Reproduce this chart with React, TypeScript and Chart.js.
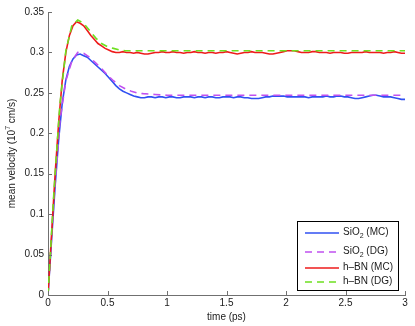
import React, { useEffect, useRef } from "react";
import { Chart, registerables } from "chart.js";

Chart.register(...registerables);

const timesMC = [
  0, 0.03, 0.06, 0.09, 0.12, 0.15, 0.18, 0.21, 0.24, 0.27,
  0.3, 0.33, 0.36, 0.39, 0.42, 0.45, 0.48, 0.51, 0.54, 0.57,
  0.6, 0.63, 0.66, 0.69, 0.72, 0.75, 0.78, 0.81, 0.84, 0.87,
  0.9, 0.93, 0.96, 0.99, 1.02, 1.05, 1.08, 1.11, 1.14, 1.17,
  1.2, 1.23, 1.26, 1.29, 1.32, 1.35, 1.38, 1.41, 1.44, 1.47,
  1.5, 1.53, 1.56, 1.59, 1.62, 1.65, 1.68, 1.71, 1.74, 1.77,
  1.8, 1.83, 1.86, 1.89, 1.92, 1.95, 1.98, 2.01, 2.04, 2.07,
  2.1, 2.13, 2.16, 2.19, 2.22, 2.25, 2.28, 2.31, 2.34, 2.37,
  2.4, 2.43, 2.46, 2.49, 2.52, 2.55, 2.58, 2.61, 2.64, 2.67,
  2.7, 2.73, 2.76, 2.79, 2.82, 2.85, 2.88, 2.91, 2.94, 2.97, 3.0,
];

const sio2MC = [
  0, 0.068, 0.135, 0.193, 0.238, 0.266, 0.283, 0.292, 0.297, 0.298,
  0.296, 0.294, 0.29, 0.286, 0.282, 0.278, 0.274, 0.269, 0.264, 0.259,
  0.255, 0.252, 0.25, 0.248, 0.246, 0.245, 0.244, 0.244, 0.245, 0.245,
  0.244, 0.245, 0.245, 0.244, 0.245, 0.245, 0.244, 0.244, 0.245, 0.245,
  0.245, 0.244, 0.245, 0.245, 0.244, 0.245, 0.245, 0.244, 0.244, 0.245,
  0.245, 0.245, 0.244, 0.245, 0.245, 0.244, 0.244, 0.243, 0.243, 0.243,
  0.244, 0.245, 0.245, 0.246, 0.246, 0.246, 0.246, 0.245, 0.245, 0.245,
  0.245, 0.245, 0.245, 0.244, 0.245, 0.245, 0.245, 0.245, 0.246, 0.245,
  0.245, 0.246, 0.246, 0.245, 0.245, 0.244, 0.243, 0.243, 0.244, 0.245,
  0.246, 0.247, 0.247, 0.246, 0.245, 0.245, 0.245, 0.244, 0.243, 0.242, 0.242,
];

const hbnMC = [
  0, 0.075, 0.15, 0.214, 0.266, 0.3, 0.321, 0.333, 0.338, 0.336,
  0.333, 0.327, 0.321, 0.316, 0.311, 0.308, 0.305, 0.303, 0.301, 0.3,
  0.3, 0.301, 0.3, 0.3, 0.299, 0.3, 0.299, 0.298, 0.298, 0.299,
  0.3, 0.3, 0.301, 0.3, 0.3, 0.301, 0.3, 0.3, 0.299, 0.3,
  0.3, 0.301, 0.3, 0.3, 0.299, 0.3, 0.3, 0.299, 0.3, 0.3,
  0.301, 0.3, 0.299, 0.298, 0.299, 0.3, 0.3, 0.301, 0.3, 0.3,
  0.3, 0.299, 0.298, 0.298, 0.299, 0.3, 0.301, 0.302, 0.302, 0.302,
  0.301, 0.3, 0.3, 0.3, 0.301, 0.301, 0.3, 0.3, 0.3, 0.299,
  0.3, 0.3, 0.3, 0.299, 0.299, 0.3, 0.3, 0.3, 0.3, 0.301,
  0.3, 0.3, 0.3, 0.3, 0.299, 0.3, 0.3, 0.301, 0.3, 0.299, 0.299,
];

const timesDG = [
  0, 0.05, 0.1, 0.15, 0.2, 0.25, 0.3, 0.35, 0.4, 0.45, 0.5, 0.55,
  0.6, 0.65, 0.7, 0.75, 0.8, 0.9, 1.0, 1.5, 2.0, 2.5, 3.0,
];

const sio2DG = [
  0, 0.118, 0.215, 0.265, 0.289, 0.3, 0.299, 0.294, 0.287, 0.28, 0.272, 0.265,
  0.259, 0.255, 0.252, 0.25, 0.249, 0.248, 0.247, 0.247, 0.247, 0.247, 0.247,
];

const hbnDG = [
  0, 0.128, 0.236, 0.302, 0.333, 0.34, 0.336, 0.327, 0.318, 0.311, 0.307, 0.305,
  0.303, 0.302, 0.302, 0.302, 0.302, 0.302, 0.302, 0.302, 0.302, 0.302, 0.302,
];

const xTicks = [0, 0.5, 1, 1.5, 2, 2.5, 3];
const yTicks = [0, 0.05, 0.1, 0.15, 0.2, 0.25, 0.3, 0.35];

const legendMain = ["SiO", "SiO", "h\u2013BN", "h\u2013BN"];
const legendSub = ["2", "2", "", ""];
const legendTail = [" (MC)", " (DG)", " (MC)", " (DG)"];

const yTitleParts = ["mean velocity (10", "7", " cm/s)"];

const FONT = "'Liberation Sans', Arial, Helvetica, sans-serif";
const AXIS = "#707070";
const TEXT = "#1a1a1a";

const COLORS = ["#3050f2", "#c050f0", "#ee1b1b", "#6ee020"];

const pairs = (xs: number[], ys: number[]) => xs.map((x, i) => ({ x, y: ys[i] }));

export default function App() {
  const ref = useRef<HTMLCanvasElement | null>(null);

  useEffect(() => {
    const canvas = ref.current;
    if (!canvas) return;

    const decorations = {
      id: "decorations",
      afterDraw(chart: any) {
        const ctx = chart.ctx;
        const xs = chart.scales.x;
        const ys = chart.scales.y;
        const a = chart.chartArea;
        ctx.save();
        ctx.strokeStyle = AXIS;
        ctx.lineWidth = 1;
        ctx.beginPath();
        xTicks.forEach((v) => {
          const px = Math.round(xs.getPixelForValue(v)) + 0.5;
          ctx.moveTo(px, a.bottom);
          ctx.lineTo(px, a.bottom - 4);
        });
        yTicks.forEach((v) => {
          const py = Math.round(ys.getPixelForValue(v)) + 0.5;
          ctx.moveTo(a.left, py);
          ctx.lineTo(a.left + 4, py);
        });
        ctx.stroke();

        // y-axis title with superscript
        ctx.save();
        ctx.fillStyle = TEXT;
        ctx.textBaseline = "middle";
        ctx.textAlign = "left";
        const big = `10px ${FONT}`;
        const small = `7px ${FONT}`;
        ctx.font = big;
        const w0 = ctx.measureText(yTitleParts[0]).width;
        const w2 = ctx.measureText(yTitleParts[2]).width;
        ctx.font = small;
        const w1 = ctx.measureText(yTitleParts[1]).width;
        const total = w0 + w1 + w2;
        ctx.translate(12, (a.top + a.bottom) / 2);
        ctx.rotate(-Math.PI / 2);
        let tx = -total / 2;
        ctx.font = big;
        ctx.fillText(yTitleParts[0], tx, 0);
        tx += w0;
        ctx.font = small;
        ctx.fillText(yTitleParts[1], tx, -4);
        tx += w1;
        ctx.font = big;
        ctx.fillText(yTitleParts[2], tx, 0);
        ctx.restore();

        // legend
        const bx = 297.5, by = 221.5, bw = 101, bh = 69;
        ctx.fillStyle = "#ffffff";
        ctx.fillRect(bx, by, bw, bh);
        ctx.strokeStyle = "#000000";
        ctx.lineWidth = 1;
        ctx.strokeRect(bx, by, bw, bh);
        const rows = [233, 252, 268, 282];
        const ds = chart.data.datasets;
        for (let i = 0; i < 4; i++) {
          const y = rows[i];
          ctx.beginPath();
          ctx.strokeStyle = ds[i].borderColor;
          ctx.lineWidth = 1.6;
          ctx.setLineDash(ds[i].borderDash || []);
          ctx.moveTo(305, y);
          ctx.lineTo(339, y);
          ctx.stroke();
          ctx.setLineDash([]);
          ctx.fillStyle = TEXT;
          ctx.textBaseline = "middle";
          ctx.textAlign = "left";
          ctx.font = big;
          let x = 343;
          const ty = y - 1;
          ctx.fillText(legendMain[i], x, ty);
          x += ctx.measureText(legendMain[i]).width;
          if (legendSub[i]) {
            ctx.font = small;
            ctx.fillText(legendSub[i], x, ty + 4);
            x += ctx.measureText(legendSub[i]).width;
            ctx.font = big;
          }
          ctx.fillText(legendTail[i], x, ty);
        }
        ctx.restore();
      },
    };

    const chart = new Chart(canvas, {
      type: "line",
      data: {
        datasets: [
          {
            label: "SiO2 (MC)",
            data: pairs(timesMC, sio2MC),
            borderColor: COLORS[0],
            borderWidth: 1.6,
            pointRadius: 0,
            order: 4,
          },
          {
            label: "SiO2 (DG)",
            data: pairs(timesDG, sio2DG),
            borderColor: COLORS[1],
            borderWidth: 1.6,
            borderDash: [7, 5],
            pointRadius: 0,
            order: 3,
          },
          {
            label: "h-BN (MC)",
            data: pairs(timesMC, hbnMC),
            borderColor: COLORS[2],
            borderWidth: 1.6,
            pointRadius: 0,
            order: 2,
          },
          {
            label: "h-BN (DG)",
            data: pairs(timesDG, hbnDG),
            borderColor: COLORS[3],
            borderWidth: 1.6,
            borderDash: [7, 5],
            pointRadius: 0,
            order: 1,
          },
        ],
      },
      options: {
        responsive: false,
        animation: false,
        devicePixelRatio: 1,
        layout: { padding: { top: 12, right: 10, left: 0, bottom: 0 } },
        plugins: { legend: { display: false }, tooltip: { enabled: false } },
        scales: {
          x: {
            type: "linear",
            min: 0,
            max: 3,
            afterFit: (s: any) => {
              s.height = 31;
            },
            afterBuildTicks: (s: any) => {
              s.ticks = xTicks.map((v) => ({ value: v }));
            },
            ticks: {
              color: TEXT,
              font: { family: FONT, size: 10 },
              padding: 2,
              maxRotation: 0,
              callback: (v: any) => String(v),
            },
            grid: { drawOnChartArea: false, drawTicks: false },
            border: { color: AXIS, width: 1 },
            title: {
              display: true,
              text: "time (ps)",
              color: TEXT,
              font: { family: FONT, size: 10 },
              padding: { top: 0, bottom: 3 },
            },
          },
          y: {
            type: "linear",
            min: 0,
            max: 0.35,
            afterFit: (s: any) => {
              s.width = 48;
            },
            afterBuildTicks: (s: any) => {
              s.ticks = yTicks.map((v) => ({ value: v }));
            },
            ticks: {
              color: TEXT,
              font: { family: FONT, size: 10 },
              padding: 4,
              callback: (v: any) => String(Math.round(v * 100) / 100),
            },
            grid: { drawOnChartArea: false, drawTicks: false },
            border: { color: AXIS, width: 1 },
          },
        },
      },
      plugins: [decorations],
    } as any);

    return () => chart.destroy();
  }, []);

  return (
    <div style={{ position: "absolute", left: 0, top: 0, width: 415, height: 326, background: "#fff" }}>
      <canvas ref={ref} width={415} height={326} />
    </div>
  );
}
